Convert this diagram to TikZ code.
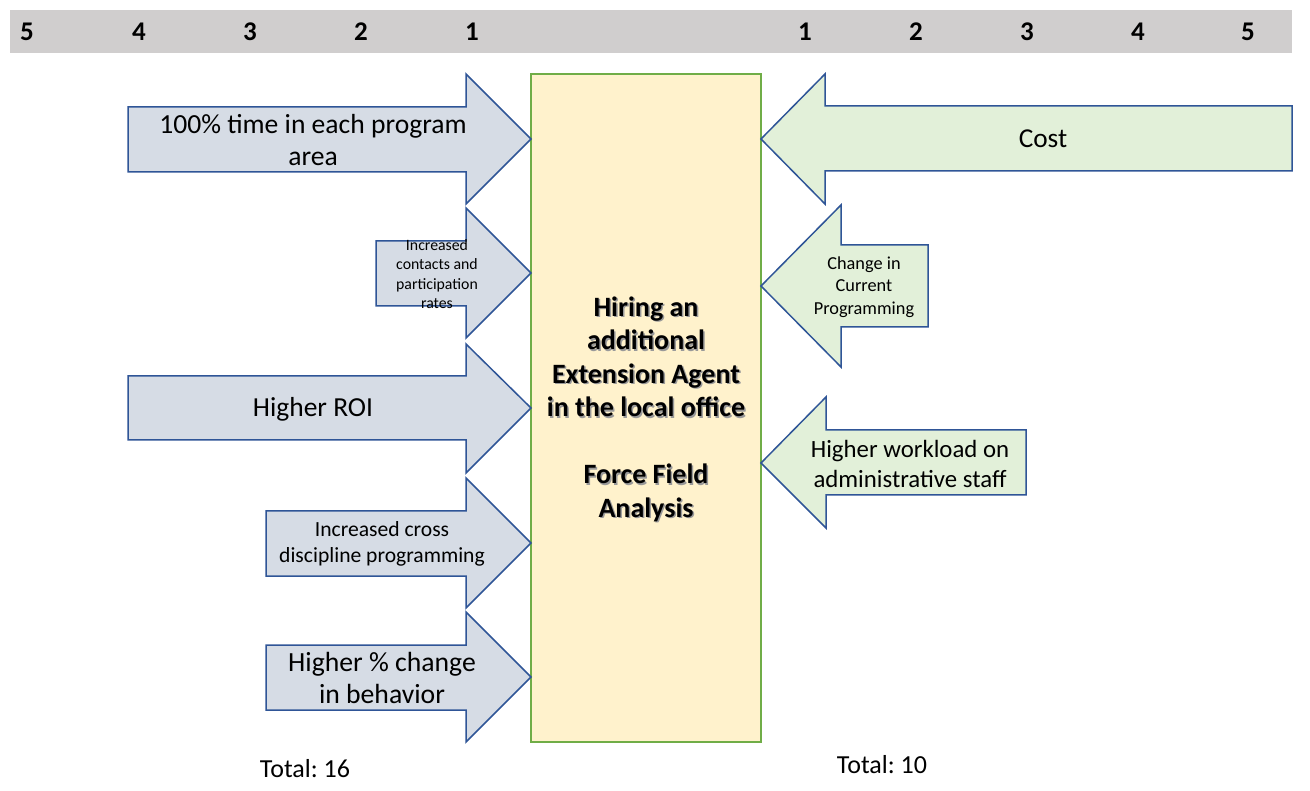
\documentclass[tikz,border=0pt]{standalone}
\usepackage{fontspec}
\setmainfont{Carlito}
\frenchspacing
\definecolor{barcol}{HTML}{D0CECE}
\definecolor{leftfill}{HTML}{D6DCE5}
\definecolor{rightfill}{HTML}{E2F0D9}
\definecolor{arrline}{HTML}{2F5597}
\definecolor{boxfill}{HTML}{FFF2CC}
\definecolor{boxline}{HTML}{70AD47}
\newcommand{\fsb}[2]{\fontsize{#1}{#2}\selectfont}
\begin{document}
\begin{tikzpicture}[x=1pt,y=-1pt,
  larr/.style={draw=arrline,fill=leftfill,line width=1.5pt,line join=miter},
  rarr/.style={draw=arrline,fill=rightfill,line width=1.5pt,line join=miter},
  lbl/.style={align=center,inner sep=0pt,text=black},
  num/.style={inner sep=0pt,font=\fsb{27}{30}\bfseries},
  ctr/.style={align=center,inner sep=0pt,font=\fsb{28}{33.5}\bfseries}]
\useasboundingbox (0,0) rectangle (1310,791);
% top bar
\fill[barcol] (10,10) rectangle (1292,53);
\foreach \n/\x in {5/27,4/139,3/250,2/361,1/472}{\node[num] (l\n) at (\x,32) {\n};}
\foreach \n/\x in {1/805,2/916,3/1027,4/1138,5/1248}{\node[num] (r\n) at (\x,32) {\n};}
% central box
\node[draw=boxline,fill=boxfill,line width=1.5pt,minimum width=230pt,minimum height=668pt,inner sep=0pt] (box) at (646,408) {};
% left arrows
\draw[larr] (128,107) -- (466,107) -- (466,74) -- (531,139) -- (466,204) -- (466,172) -- (128,172) -- cycle;
\draw[larr] (376,241) -- (466,241) -- (466,208) -- (531,273) -- (466,338) -- (466,306) -- (376,306) -- cycle;
\draw[larr] (128,376) -- (466,376) -- (466,344) -- (531,408) -- (466,473) -- (466,440) -- (128,440) -- cycle;
\draw[larr] (266,511) -- (466,511) -- (466,478) -- (531,543) -- (466,608) -- (466,576) -- (266,576) -- cycle;
\draw[larr] (266,645) -- (466,645) -- (466,612) -- (531,677) -- (466,742) -- (466,710) -- (266,710) -- cycle;
% right arrows
\draw[rarr] (1292,106) -- (825,106) -- (825,74) -- (761,139) -- (825,204) -- (825,171) -- (1292,171) -- cycle;
\draw[rarr] (928,245) -- (841,245) -- (841,205) -- (761,286) -- (841,367) -- (841,327) -- (928,327) -- cycle;
\draw[rarr] (1026,430) -- (826,430) -- (826,397) -- (761,463) -- (826,528) -- (826,495) -- (1026,495) -- cycle;
% left labels
\node[lbl,font=\fsb{27.6}{32}] (t1) at (313,140) {100\% time in each program\\area};
\node[lbl,font=\fsb{15.8}{19.3}] (t2) at (437,274) {Increased\\contacts and\\participation\\rates};
\node[lbl,font=\fsb{27.5}{32}] (t3) at (313,409) {Higher ROI};
\node[lbl,font=\fsb{21.6}{26}] (t4) at (382,544) {Increased cross\\discipline programming};
\node[lbl,font=\fsb{27.7}{32}] (t5) at (382,678) {Higher \% change\\in behavior};
% right labels
\node[lbl,font=\fsb{27.3}{32}] (s1) at (1043,139) {Cost};
\node[lbl,font=\fsb{18.3}{22.5}] (s2) at (864,287) {Change in\\Current\\Programming};
\node[lbl,font=\fsb{24.8}{30}] (s3) at (910,464) {Higher workload on\\administrative staff};
% central text with shadow
\node[ctr,text=black!40] (shadow) at (647.5,410.5) {Hiring an\\additional\\Extension Agent\\in the local office\\ \\Force Field\\Analysis};
\node[ctr] (title) at (646,409) {Hiring an\\additional\\Extension Agent\\in the local office\\ \\Force Field\\Analysis};
% totals
\node[lbl,font=\fsb{26}{30}] (tot1) at (305,769) {Total: 16};
\node[lbl,font=\fsb{26}{30}] (tot2) at (882,765) {Total: 10};
\end{tikzpicture}
\end{document}
